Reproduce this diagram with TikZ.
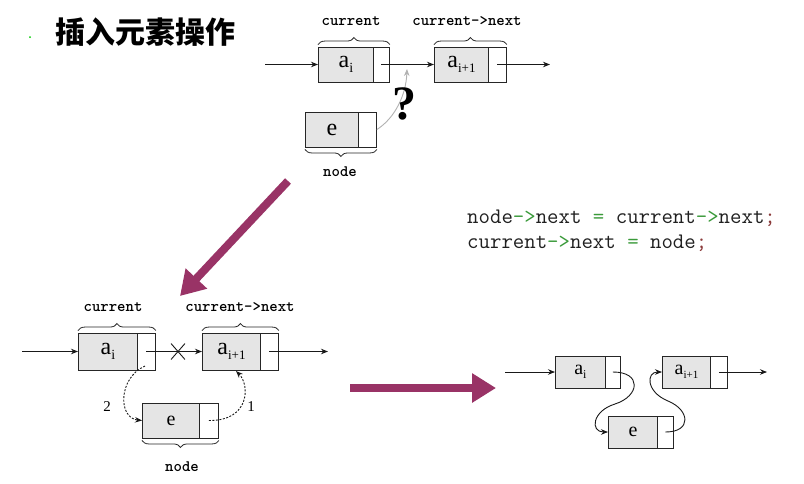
\documentclass[tikz,border=0pt]{standalone}
\usepackage{fontspec}
\setmainfont{Liberation Serif}
\newfontfamily\cjk{Noto Sans CJK SC}
\newfontfamily\lblfont{lmmonolt10-bold.otf}
\usetikzlibrary{arrows.meta,decorations.pathreplacing,shapes.misc}
\definecolor{purp}{HTML}{993366}
\definecolor{codegreen}{HTML}{3A9A3A}
\definecolor{codered}{HTML}{8B3A3A}
\definecolor{codetext}{HTML}{202020}
\newcommand{\sbi}[2]{a\raisebox{-0.22em}{\fontsize{#1}{#1}\selectfont #2}}
\begin{document}
\begin{tikzpicture}[x=1pt,y=-1pt,
  datapart/.style={draw=black!85, fill=gray!20, line width=0.9pt, inner sep=0pt, anchor=west},
  ptrpart/.style={draw=black!85, fill=white, line width=0.9pt, inner sep=0pt, anchor=west},
  big/.style={font=\fontsize{24}{24}\selectfont},
  mid/.style={font=\fontsize{20}{20}\selectfont},
  lbl/.style={font=\lblfont\fontsize{16}{16}\selectfont, inner sep=0pt},
  num/.style={font=\fontsize{15}{15}\selectfont, inner sep=0pt},
  brc/.style={decorate, decoration={brace, amplitude=7pt}, line width=0.8pt, draw=black!85},
  arr/.style={-{Stealth[length=7pt,width=5.5pt]}, line width=0.9pt, draw=black!90},
  dsh/.style={arr, dash pattern=on 2pt off 1.5pt},
  bigarrow/.style={line width=8pt, draw=purp, -{Triangle[length=24pt,width=28pt]}},
  code/.style={anchor=west, font=\ttfamily\fontsize{22.2}{22.2}\selectfont, text=codetext, inner sep=0pt}
]
\useasboundingbox (0,0) rectangle (804,483);
\fill[white] (0,0) rectangle (804,483);

% title
\fill[green!80!black] (30,37) circle (1pt);
\node[font=\cjk\bfseries\fontsize{30}{30}\selectfont, anchor=west, inner sep=0pt] (title) at (55,32) {插入元素操作};

% ---------- top diagram ----------
\node[datapart, minimum width=55pt, minimum height=35pt, big] (tai) at (318,64.5) {\sbi{14}{i}};
\node[ptrpart, minimum width=16pt, minimum height=35pt] (taip) at (373,64.5) {};
\node[datapart, minimum width=54pt, minimum height=35pt, big] (tai1) at (434,64.5) {\sbi{13}{i+1}};
\node[ptrpart, minimum width=18pt, minimum height=35pt] (tai1p) at (488,64.5) {};
\node[datapart, minimum width=53pt, minimum height=35pt, big] (te) at (305,129.5) {e};
\node[ptrpart, minimum width=18pt, minimum height=35pt] (tep) at (358,129.5) {};

\coordinate (tin) at (265,64.5);
\coordinate (tout) at (550,64.5);
\coordinate (tq) at (407,69);
\draw[arr] (tin) -- (tai.west);
\draw[arr] (taip.center) -- (tai1.west);
\draw[arr] (tai1p.center) -- (tout);
\draw[-{Stealth[length=7pt,width=5.5pt]}, line width=0.9pt, draw=gray!60] (tep.east) .. controls (395,118) and (406,95) .. (tq);
\node[font=\bfseries\fontsize{48}{48}\selectfont, inner sep=0pt] (qm) at (404,104) {?};

\draw[brc] ([yshift=2pt]tai.north west) -- ([yshift=2pt]taip.north east);
\draw[brc] ([yshift=2pt]tai1.north west) -- ([yshift=2pt]tai1p.north east);
\draw[brc] ([yshift=-2pt]tep.south east) -- ([yshift=-2pt]te.south west);
\node[lbl] (tlc) at (351,21) {current};
\node[lbl] (tln) at (467,21) {current->next};
\node[lbl] (tlnode) at (340,172) {node};

% ---------- code ----------
\node[code] (code1) at (467,218) {node\textcolor{codegreen}{->}next \textcolor{codegreen}{=} current\textcolor{codegreen}{->}next\textcolor{codered}{;}};
\node[code] (code2) at (467,243) {current\textcolor{codegreen}{->}next \textcolor{codegreen}{=} node\textcolor{codered}{;}};

% ---------- big arrows ----------
\coordinate (b1s) at (288,181);
\coordinate (b1e) at (180,296);
\coordinate (b2s) at (350,388);
\coordinate (b2e) at (496,388);
\draw[bigarrow] (b1s) -- (b1e);
\draw[bigarrow] (b2s) -- (b2e);

% ---------- bottom-left diagram ----------
\node[datapart, minimum width=59pt, minimum height=37pt, big] (lai) at (78,351.5) {\sbi{14}{i}};
\node[ptrpart, minimum width=18pt, minimum height=37pt] (laip) at (137,351.5) {};
\node[datapart, minimum width=58pt, minimum height=37pt, big] (lai1) at (202,351.5) {\sbi{13}{i+1}};
\node[ptrpart, minimum width=18pt, minimum height=37pt] (lai1p) at (260,351.5) {};
\node[datapart, minimum width=57pt, minimum height=35pt, mid] (le) at (142,420.5) {e};
\node[ptrpart, minimum width=19pt, minimum height=35pt] (lep) at (199,420.5) {};

\coordinate (lin) at (22,351.5);
\coordinate (lout) at (328,351.5);
\coordinate (ls2) at (145,366);
\coordinate (le1) at (236,371);
\draw[arr] (lin) -- (lai.west);
\draw[arr] (laip.center) -- (lai1.west);
\node[cross out, draw=black!90, line width=0.9pt, minimum width=13pt, minimum height=15pt, inner sep=0pt] (lx) at (178,351.5) {};
\draw[arr] (lai1p.center) -- (lout);
\draw[dsh] (ls2) .. controls (118,378) and (118,418) .. (le.west);
\draw[dsh] (lep.center) .. controls (250,421) and (250,385) .. (le1);
\node[num] (n2) at (107,407) {2};
\node[num] (n1) at (251,407) {1};

\draw[brc] ([yshift=2pt]lai.north west) -- ([yshift=2pt]laip.north east);
\draw[brc] ([yshift=2pt]lai1.north west) -- ([yshift=2pt]lai1p.north east);
\draw[brc] ([yshift=-2pt]lep.south east) -- ([yshift=-2pt]le.south west);
\node[lbl] (llc) at (113,307) {current};
\node[lbl] (lln) at (240,307) {current->next};
\node[lbl] (llnode) at (182,467) {node};

% ---------- bottom-right diagram ----------
\node[datapart, minimum width=50pt, minimum height=32pt, mid] (rai) at (555,372) {\sbi{12}{i}};
\node[ptrpart, minimum width=15pt, minimum height=32pt] (raip) at (605,372) {};
\node[datapart, minimum width=48pt, minimum height=32pt, mid] (rai1) at (662,372) {\sbi{11}{i+1}};
\node[ptrpart, minimum width=17pt, minimum height=32pt] (rai1p) at (710,372) {};
\node[datapart, minimum width=49pt, minimum height=32pt, mid] (re) at (608,432) {e};
\node[ptrpart, minimum width=16pt, minimum height=32pt] (rep) at (657,432) {};

\coordinate (rin) at (505,372);
\coordinate (rout) at (767,372);
\draw[arr] (rin) -- (rai.west);
\draw[arr] (rai1p.center) -- (rout);
\draw[arr] (raip.center) .. controls (642,372) and (640,396) .. (615,404)
   .. controls (592,411) and (590,432) .. (re.west);
\draw[arr] (rep.center) .. controls (692,432) and (690,410) .. (668,401)
   .. controls (646,392) and (646,372) .. (rai1.west);
\end{tikzpicture}
\end{document}
